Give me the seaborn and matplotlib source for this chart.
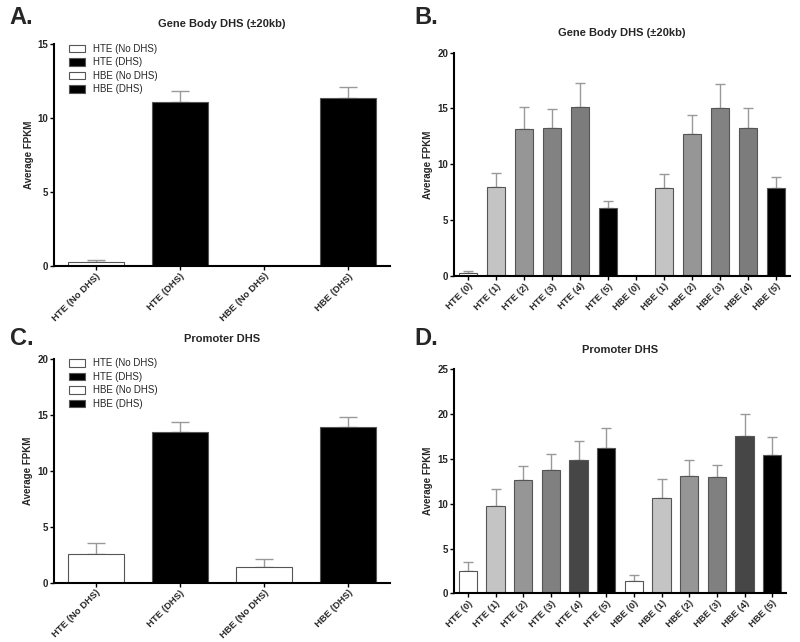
import matplotlib
matplotlib.use("Agg")
import matplotlib.pyplot as plt
from matplotlib.patches import Patch
import seaborn as sns

# panel A / C : grouped by DHS presence
groups4 = ["HTE (No DHS)", "HTE (DHS)", "HBE (No DHS)", "HBE (DHS)"]
colors4 = ["white", "black", "white", "black"]

genebody4 = [0.25, 11.07, 0.0, 11.36]
genebody4_err = [0.17, 0.75, 0.0, 0.74]

promoter4 = [2.53, 13.42, 1.37, 13.93]
promoter4_err = [0.98, 0.9, 0.71, 0.86]

# panel B / D : number of DHS
groups12 = ["HTE (0)", "HTE (1)", "HTE (2)", "HTE (3)", "HTE (4)", "HTE (5)",
            "HBE (0)", "HBE (1)", "HBE (2)", "HBE (3)", "HBE (4)", "HBE (5)"]

genebody12 = [0.24, 7.94, 13.16, 13.22, 15.1, 6.06,
              0.0, 7.91, 12.72, 15.07, 13.25, 7.85]
genebody12_err = [0.18, 1.25, 1.94, 1.71, 2.15, 0.63,
                  0.0, 1.19, 1.73, 2.09, 1.76, 0.99]
genebody12_colors = ["white", "#c4c4c4", "#969696", "#828282", "#7c7c7c", "black"] * 2

promoter12 = [2.53, 9.75, 12.61, 13.73, 14.88, 16.22,
              1.34, 10.6, 13.06, 12.98, 17.6, 15.44]
promoter12_err = [0.93, 1.89, 1.56, 1.86, 2.08, 2.2,
                  0.71, 2.12, 1.78, 1.34, 2.45, 1.97]
promoter12_colors = ["white", "#c4c4c4", "#969696", "#808080", "#464646", "black"] * 2

sns.set_style("white")
plt.rcParams["font.family"] = ["Liberation Sans", "DejaVu Sans"]

fig = plt.figure(figsize=(8, 6.42), dpi=100)


def draw_panel(rect, labels, values, errs, colors, ymax, ystep, title, capsize, legend=False):
    ax = fig.add_axes(rect)
    sns.barplot(x=labels, y=values, hue=labels, palette=colors, legend=False,
                edgecolor="#555555", linewidth=0.8, width=0.67, errorbar=None,
                ax=ax, zorder=2)
    ax.errorbar(range(len(labels)), values, yerr=[[0] * len(errs), errs],
                fmt="none", ecolor="#999999", elinewidth=1.0, capsize=capsize,
                capthick=1.0, zorder=1)
    ax.set_xlim(-0.5, len(labels) - 0.5)
    ax.set_ylim(0, ymax)
    ax.set_yticks(range(0, ymax + 1, ystep))
    sns.despine(ax=ax)
    for s in ["left", "bottom"]:
        ax.spines[s].set_color("black")
        ax.spines[s].set_linewidth(1.5)
    ax.tick_params(axis="both", direction="out", length=3, width=1, color="black",
                   bottom=True, left=True, pad=1)
    ax.set_xticks(range(len(labels)))
    ax.set_xticklabels(labels, rotation=45, ha="right", rotation_mode="anchor",
                       fontsize=6.8, fontweight="bold")
    for t in ax.get_yticklabels():
        t.set_fontsize(7)
        t.set_fontweight("bold")
    ax.set_ylabel("Average FPKM", fontsize=7, fontweight="bold", labelpad=3)
    ax.set_title(title, fontsize=8, fontweight="bold", pad=12)
    if legend:
        handles = [Patch(facecolor=c, edgecolor="#555555", linewidth=0.8) for c in colors]
        ax.legend(handles, labels, loc="upper left", bbox_to_anchor=(0.02, 1.04),
                  frameon=False, fontsize=7, handlelength=1.6, handleheight=0.8,
                  labelspacing=0.36)
    return ax


draw_panel([0.0675, 0.5857, 0.42, 0.3458], groups4, genebody4, genebody4_err,
           colors4, 15, 5, "Gene Body DHS (\u00b120kb)", 6.5, legend=True)
draw_panel([0.5675, 0.570, 0.42, 0.348], groups12, genebody12, genebody12_err,
           genebody12_colors, 20, 5, "Gene Body DHS (\u00b120kb)", 3.6)
draw_panel([0.0675, 0.0924, 0.42, 0.3489], groups4, promoter4, promoter4_err,
           colors4, 20, 5, "Promoter DHS", 6.5, legend=True)
draw_panel([0.5675, 0.0758, 0.415, 0.349], groups12, promoter12, promoter12_err,
           promoter12_colors, 25, 5, "Promoter DHS", 3.6)

for x, y, letter in [(0.012, 0.972, "A."), (0.518, 0.972, "B."),
                     (0.012, 0.472, "C."), (0.518, 0.472, "D.")]:
    fig.text(x, y, letter, fontsize=17, fontweight="bold", va="center")

fig.savefig("out.png", dpi=100)
